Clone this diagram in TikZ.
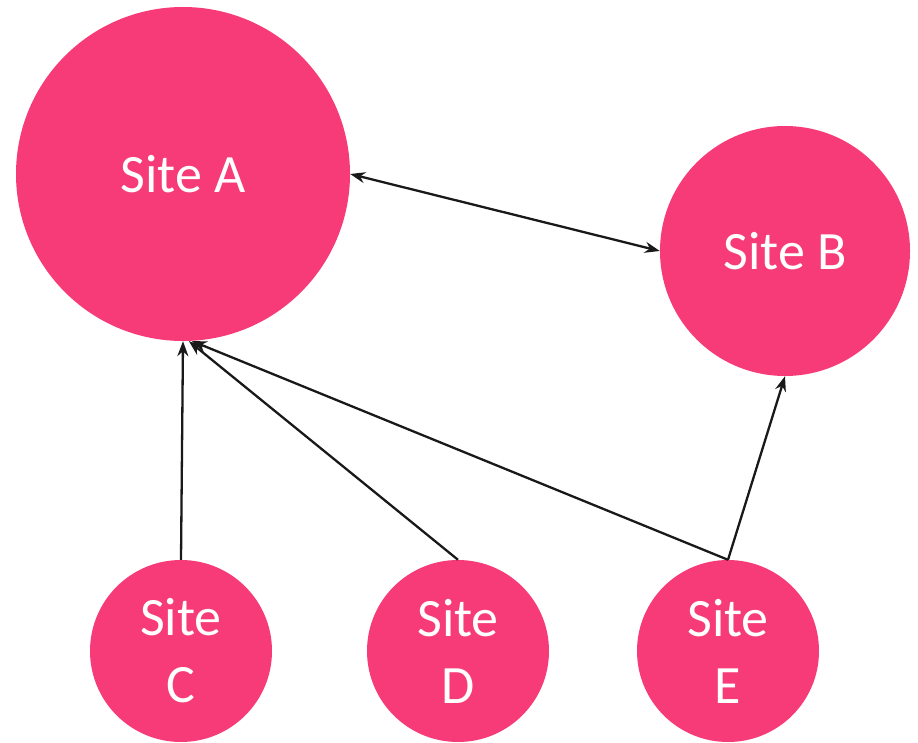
\documentclass[tikz,border=0pt]{standalone}
\usepackage{fontspec}
\setmainfont{Carlito}
\usetikzlibrary{arrows.meta}
\definecolor{sitepink}{RGB}{247,59,121}
\begin{document}
\begin{tikzpicture}[x=1pt,y=-1pt,
  site/.style={circle,fill=sitepink,draw=none,inner sep=0pt,text=white,
    align=center,font=\fontsize{54}{67}\selectfont},
  link/.style={line width=2.3pt,draw=black!90,-{Stealth[length=15pt,width=11pt]}},
  blink/.style={line width=2.3pt,draw=black!90,{Stealth[length=15pt,width=11pt]}-{Stealth[length=15pt,width=11pt]}}]
\useasboundingbox (0,0) rectangle (918,743);
\node[site,minimum size=334pt] (A) at (183,174) {Site A};
\node[site,minimum size=250pt] (B) at (785,251) {Site B};
\node[site,minimum size=182pt] (C) at (181,651) {Site\\C};
\node[site,minimum size=182pt] (D) at (458,651) {Site\\D};
\node[site,minimum size=182pt] (E) at (728,651) {Site\\E};
\draw[blink] (A.east) -- (B.west);
\draw[link] (C.north) -- (A.south);
\draw[link] (D.north) -- (A.-88);
\draw[link] (E.north) -- (A.-87);
\draw[link] (E.north) -- (B.south);
\end{tikzpicture}
\end{document}
